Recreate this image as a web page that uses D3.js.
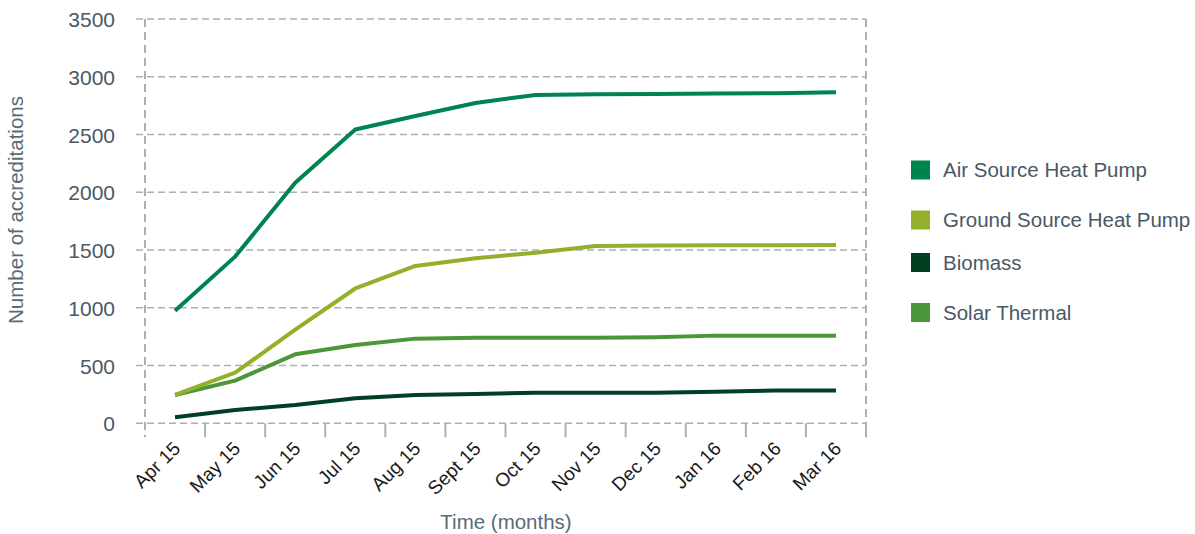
<!DOCTYPE html>
<html>
<head>
<meta charset="utf-8">
<script src="https://cdn.jsdelivr.net/npm/d3@7"></script>
<style>
  html, body { margin: 0; padding: 0; background: #fff; }
  svg { display: block; font-family: "Liberation Sans", Arial, sans-serif; }
</style>
</head>
<body>
<svg id="chart" width="1195" height="534"></svg>
<script>
// Monthly cumulative accreditations, April 2015 to March 2016
const months = ["Apr 15", "May 15", "Jun 15", "Jul 15", "Aug 15", "Sept 15",
                "Oct 15", "Nov 15", "Dec 15", "Jan 16", "Feb 16", "Mar 16"];
const airSource    = [975, 1443, 2082, 2543, 2660, 2773, 2843, 2848, 2851, 2854, 2857, 2866];
const groundSource = [245, 438, 810, 1167, 1362, 1428, 1477, 1535, 1540, 1542, 1542, 1543];
const biomass      = [52, 115, 158, 216, 245, 254, 265, 265, 265, 274, 285, 285];
const solarThermal = [245, 369, 597, 678, 733, 741, 741, 741, 745, 759, 759, 759];
const yTicks = [0, 500, 1000, 1500, 2000, 2500, 3000, 3500];

const series = [
  { name: "Air Source Heat Pump",    values: airSource,    color: "#00844f" },
  { name: "Ground Source Heat Pump", values: groundSource, color: "#93b02b" },
  { name: "Biomass",                 values: biomass,      color: "#003f22" },
  { name: "Solar Thermal",           values: solarThermal, color: "#4a9639" }
];
// Drawing order: lower lines first so the heavier series sit on top
const drawOrder = [2, 3, 1, 0];

const svg = d3.select("#chart");
const plotLeft = 145, plotRight = 866, plotTop = 19, plotBottom = 423.3;

const x = d3.scaleBand().domain(months).range([plotLeft, plotRight]);
const y = d3.scaleLinear().domain([0, 3500]).range([plotBottom, plotTop]);

const gridColor = "#a9b0b7";
const textGrey = "#4a5866";

// Horizontal dashed gridlines
svg.append("g")
  .selectAll("line")
  .data(yTicks)
  .join("line")
  .attr("x1", plotLeft - 9).attr("x2", plotRight)
  .attr("y1", d => y(d)).attr("y2", d => y(d))
  .attr("stroke", gridColor)
  .attr("stroke-width", 1.6)
  .attr("stroke-dasharray", "7,4");

// Dashed frame verticals
[plotLeft, plotRight].forEach(px => {
  svg.append("line")
    .attr("x1", px).attr("x2", px)
    .attr("y1", plotTop).attr("y2", plotBottom + 14)
    .attr("stroke", gridColor)
    .attr("stroke-width", 2)
    .attr("stroke-dasharray", "8,5");
});

// Y axis labels
const yAxis = d3.axisLeft(y).tickValues(yTicks).tickFormat(d3.format("d"))
  .tickSize(0).tickPadding(0);
const gy = svg.append("g").attr("transform", `translate(${plotLeft - 30},0)`).call(yAxis);
gy.select(".domain").remove();
gy.selectAll("text")
  .attr("font-size", 21)
  .attr("fill", textGrey)
  .attr("font-family", "'Liberation Sans', Arial, sans-serif")
  .attr("dy", "0.36em");

// X axis: tick marks on band boundaries, labels on band centres
const bounds = months.map(m => x(m)).concat([plotRight]);
svg.append("g")
  .selectAll("line")
  .data(bounds.slice(1))
  .join("line")
  .attr("x1", d => d).attr("x2", d => d)
  .attr("y1", plotBottom).attr("y2", plotBottom + 14)
  .attr("stroke", gridColor)
  .attr("stroke-width", 2);

const xAxis = d3.axisBottom(x).tickSize(0).tickPadding(0);
const gx = svg.append("g").attr("transform", `translate(-3,${plotBottom + 17})`).call(xAxis);
gx.select(".domain").remove();
gx.selectAll("text")
  .attr("font-size", 19)
  .attr("fill", "#1a1a1a")
  .attr("font-family", "'Liberation Sans', Arial, sans-serif")
  .attr("text-anchor", "end")
  .attr("dy", "0.7em")
  .attr("transform", "rotate(-45)");

// Axis titles
svg.append("text")
  .attr("transform", `translate(23,${210}) rotate(-90)`)
  .attr("text-anchor", "middle")
  .attr("font-size", 20.5)
  .attr("fill", "#5a6a76")
  .text("Number of accreditations");

svg.append("text")
  .attr("x", 506).attr("y", 529)
  .attr("text-anchor", "middle")
  .attr("font-size", 20.5)
  .attr("fill", "#5a6a76")
  .text("Time (months)");

// Series lines
const line = d3.line()
  .x((d, i) => x(months[i]) + x.bandwidth() / 2)
  .y(d => y(d));

svg.append("g")
  .selectAll("path")
  .data(drawOrder.map(i => series[i]))
  .join("path")
  .attr("d", d => line(d.values))
  .attr("fill", "none")
  .attr("stroke", d => d.color)
  .attr("stroke-width", 4)
  .attr("stroke-linejoin", "round");

// Legend
const legendY = [170, 220, 262.5, 312.5];
const legend = svg.append("g")
  .selectAll("g")
  .data(series)
  .join("g")
  .attr("transform", (d, i) => `translate(911,${legendY[i]})`);
legend.append("rect")
  .attr("x", 0).attr("y", -9.5)
  .attr("width", 19).attr("height", 19)
  .attr("fill", d => d.color);
legend.append("text")
  .attr("x", 32).attr("y", 0)
  .attr("dy", "0.36em")
  .attr("font-size", 20.5)
  .attr("fill", textGrey)
  .text(d => d.name);
</script>
</body>
</html>
